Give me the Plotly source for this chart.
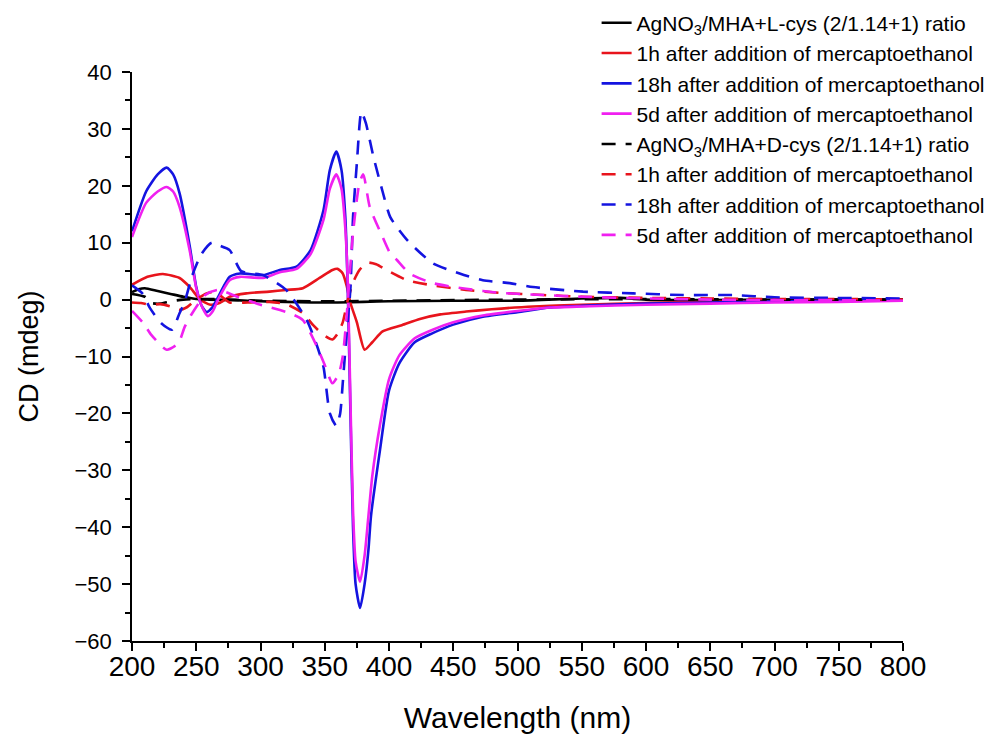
import plotly.graph_objects as go

# ---------------- data ----------------
# L-cys series (solid)
l0_x = [200, 205, 210, 220, 230, 240, 250, 260, 280, 300, 320, 340, 360, 380, 400, 450, 500, 550, 580, 600, 650, 700, 750, 800]
l0_y = [1.3, 1.8, 2.0, 1.5, 1.0, 0.5, 0.1, 0.0, -0.1, -0.3, -0.4, -0.5, -0.5, -0.4, -0.3, -0.2, -0.2, 0.2, 0.3, 0.0, -0.1, 0.0, 0.0, 0.0]

l1_x = [200, 212, 224, 237, 245, 253, 261, 268, 276, 289, 307, 320, 333, 346, 356, 360, 364, 367, 370, 375, 381, 387, 395, 410, 424, 440, 460, 480, 512, 550, 600, 650, 700, 750, 800]
l1_y = [2.6, 4.0, 4.5, 3.8, 2.2, 0.0, -0.9, -0.6, 0.5, 1.1, 1.4, 1.7, 2.0, 3.8, 5.2, 5.4, 4.6, 2.5, -0.6, -4.0, -8.8, -7.5, -5.6, -4.5, -3.4, -2.6, -2.1, -1.7, -1.2, -0.9, -0.6, -0.4, -0.3, -0.2, 0.0]

l2_x = [200, 211, 220, 227, 232, 237, 245, 250, 254, 258, 262, 266, 276, 284, 302, 315, 328, 339, 349, 354, 359, 363, 366, 368, 370, 372, 374, 377.5, 381, 384, 386, 393, 400, 408, 420, 434, 450, 473, 500, 525, 550, 600, 650, 700, 750, 800]
l2_y = [12.0, 19.0, 22.0, 23.2, 22.0, 18.7, 9.3, 2.2, -1.0, -2.2, -1.5, 0.0, 4.0, 4.6, 4.3, 5.2, 5.8, 8.7, 15.7, 22.8, 26.0, 22.8, 14.5, 1.0, -20.0, -40.0, -50.0, -54.2, -50.0, -44.0, -38.0, -26.4, -16.0, -11.2, -7.5, -5.9, -4.4, -3.0, -2.2, -1.4, -1.1, -0.7, -0.5, -0.3, -0.2, 0.0]

l3_x = [200, 211, 220, 227, 232, 237, 245, 250, 255, 259, 263, 267, 276, 284, 302, 315, 328, 339, 349, 354, 359, 363, 366, 368, 370, 372, 374, 377.5, 381, 384, 387, 393, 400, 408, 420, 434, 450, 473, 500, 525, 550, 600, 650, 700, 750, 800]
l3_y = [11.0, 17.0, 19.0, 19.8, 19.0, 16.3, 8.5, 2.0, -1.5, -2.9, -2.0, 0.0, 3.4, 4.0, 3.8, 4.8, 5.4, 8.0, 14.0, 19.5, 22.0, 19.5, 12.5, 2.5, -18.0, -37.0, -46.0, -49.6, -45.0, -38.0, -31.0, -22.0, -14.0, -9.8, -6.8, -5.3, -4.0, -2.8, -2.0, -1.4, -1.2, -0.9, -0.7, -0.5, -0.4, -0.2]

# D-cys series (dashed)
d0_x = [200, 210, 215, 222, 230, 240, 260, 300, 350, 400, 500, 600, 700, 800]
d0_y = [1.0, 0.5, -0.6, -0.7, -0.3, 0.0, 0.1, -0.2, -0.3, -0.2, 0.0, 0.1, 0.0, 0.0]

d1_x = [200, 207, 214, 222, 230, 237, 243, 250, 258, 265, 270, 276, 290, 307, 320, 333, 341, 349, 356, 360, 364, 368, 372, 377, 383, 390, 398, 414, 434, 460, 486, 520, 551, 600, 650, 700, 750, 800]
d1_y = [-0.5, -0.6, -0.9, -0.8, -1.2, -1.8, -1.3, 0.0, 1.1, 1.4, 0.5, -0.5, -0.5, -0.4, -0.8, -2.4, -4.5, -6.2, -7.0, -6.0, -4.0, 0.0, 3.0, 5.2, 6.5, 6.2, 5.2, 3.4, 2.5, 1.7, 1.2, 0.8, 0.5, 0.3, 0.2, 0.1, 0.1, 0.0]

d2_x = [200, 208, 214, 223, 231, 237, 241, 247, 254, 262, 268, 276, 285, 302, 320, 336, 343, 349, 354, 359, 362, 364, 367, 370, 372, 375, 378.5, 382, 388, 395, 401, 414, 434, 455, 473, 494, 512, 551, 590, 629, 668, 700, 745, 800]
d2_y = [2.5, 1.1, -1.5, -4.2, -5.3, -2.4, -0.4, 4.3, 8.0, 10.0, 9.5, 8.7, 5.0, 4.3, 1.7, -3.6, -7.5, -11.8, -20.0, -22.2, -20.0, -14.7, -6.0, 2.0, 14.5, 24.0, 33.0, 31.0, 25.0, 19.0, 14.5, 10.5, 6.4, 4.6, 3.4, 2.9, 2.2, 1.4, 1.1, 0.8, 0.8, 0.4, 0.3, 0.2]

d3_x = [200, 209, 215, 227, 236, 241, 246, 257, 267, 282, 300, 323, 333, 344, 350, 356, 361, 364, 367, 372, 377, 380, 385, 395, 401, 406, 416, 434, 460, 486, 520, 551, 600, 650, 700, 750, 800]
d3_y = [-2.0, -4.2, -6.2, -8.8, -7.7, -4.8, -2.7, 0.8, 1.7, 0.5, -0.9, -2.4, -3.6, -8.3, -11.5, -14.7, -13.0, -10.0, -3.0, 11.7, 20.5, 22.0, 16.3, 11.0, 8.1, 7.0, 4.6, 2.9, 1.9, 1.2, 0.8, 0.5, 0.2, 0.0, -0.1, -0.1, -0.2]

names = [
    "AgNO<sub>3</sub>/MHA+L-cys (2/1.14+1) ratio",
    "1h after addition of mercaptoethanol",
    "18h after addition of mercaptoethanol",
    "5d after addition of mercaptoethanol",
    "AgNO<sub>3</sub>/MHA+D-cys (2/1.14+1) ratio",
    "1h after addition of mercaptoethanol",
    "18h after addition of mercaptoethanol",
    "5d after addition of mercaptoethanol",
]
colors = ["#000000", "#e8141c", "#1414e0", "#f020f0"]

series = [(l0_x, l0_y), (l1_x, l1_y), (l2_x, l2_y), (l3_x, l3_y),
          (d0_x, d0_y), (d1_x, d1_y), (d2_x, d2_y), (d3_x, d3_y)]

fig = go.Figure()
for i, (xs, ys) in enumerate(series):
    dashed = i >= 4
    fig.add_trace(go.Scatter(
        x=xs, y=ys, mode="lines", name=names[i],
        line=dict(color=colors[i % 4], width=2.6, shape="spline", smoothing=0.6,
                  dash="14px,10px" if dashed else "solid"),
    ))

FONT = "Liberation Sans, Arial, sans-serif"
fig.update_layout(
    width=1003, height=743,
    margin=dict(l=132, r=100, t=72, b=102, autoexpand=False),
    paper_bgcolor="white", plot_bgcolor="white",
    font=dict(family=FONT, color="black"),
    showlegend=True,
    legend=dict(x=0.6026, y=1.122, xanchor="left", yanchor="top",
                font=dict(size=21, family=FONT, color="black"),
                bgcolor="rgba(0,0,0,0)", tracegroupgap=0),
    xaxis=dict(range=[200, 800], tickmode="linear", tick0=200, dtick=50,
               showgrid=False, zeroline=False, showline=True, linecolor="black", linewidth=1.5,
               ticks="outside", ticklen=8, tickwidth=1.5, tickcolor="black",
               minor=dict(dtick=25, ticks="outside", ticklen=5, tickwidth=1.5, tickcolor="black"),
               tickfont=dict(size=28, family=FONT), ticklabelstandoff=-8, automargin=False,
               title=dict(text="Wavelength (nm)", font=dict(size=30, family=FONT), standoff=26)),
    yaxis=dict(range=[-60, 40], tickmode="linear", tick0=0, dtick=10,
               showgrid=False, zeroline=False, showline=True, linecolor="black", linewidth=1.5,
               ticks="outside", ticklen=8, tickwidth=1.5, tickcolor="black",
               minor=dict(dtick=5, ticks="outside", ticklen=5, tickwidth=1.5, tickcolor="black"),
               tickfont=dict(size=22, family=FONT), ticklabelstandoff=6, automargin=False,
               title=dict(text="CD (mdeg)", font=dict(size=27, family=FONT), standoff=28)),
)

fig.write_html("out.html")
